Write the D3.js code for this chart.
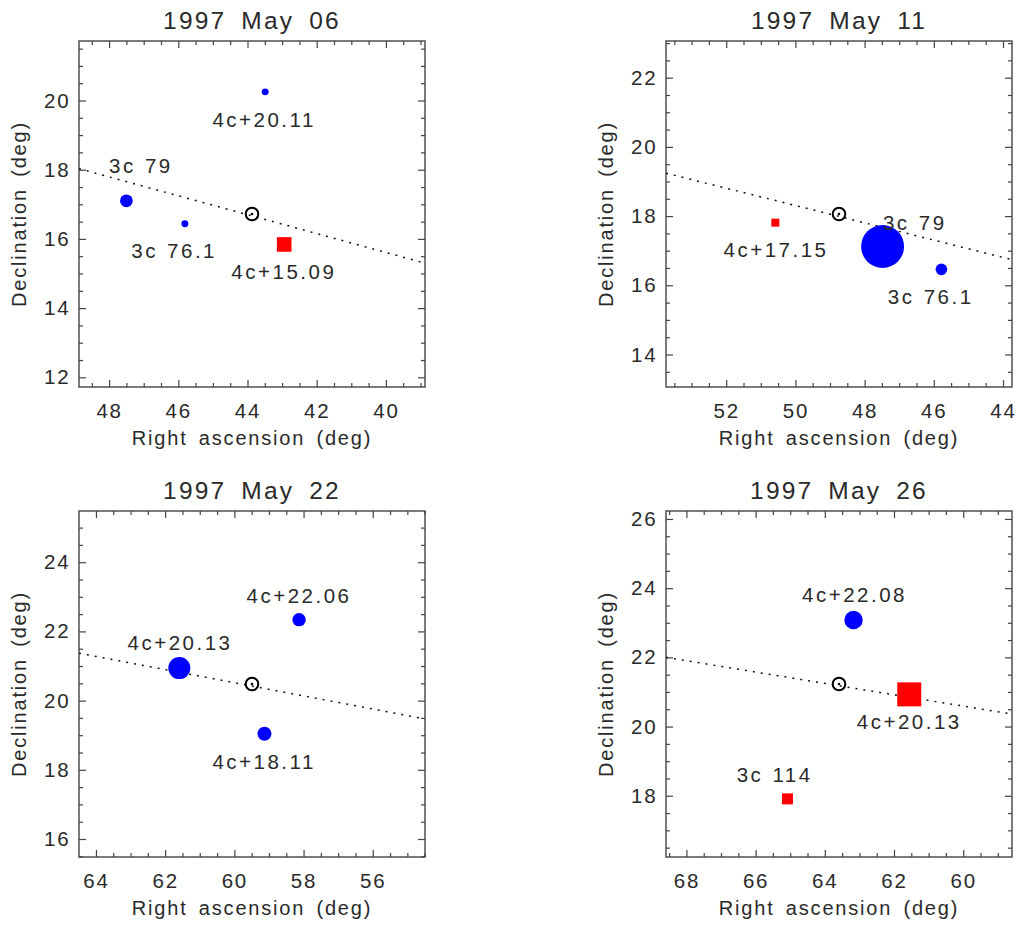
<!DOCTYPE html>
<html>
<head>
<meta charset="utf-8">
<script src="https://cdn.jsdelivr.net/npm/d3@7"></script>
<style>
  html, body { margin: 0; padding: 0; background: #fff; }
  svg text { font-family: "Liberation Sans", Arial, sans-serif; fill: #2a2a2a; }
</style>
</head>
<body>
<svg id="chart" width="1016" height="926"></svg>
<script>
// ---------------- data ----------------
const panelTitles = ["1997 May 06", "1997 May 11", "1997 May 22", "1997 May 26"];
// Sun position (centre of each panel), degrees
const sunRa  = [43.87, 48.74, 59.49, 63.59];
const sunDec = [16.72, 18.06, 20.48, 21.23];
const halfSpan = 5; // each panel spans sun +/- 5 deg
// dotted (ecliptic) line: declination at the left and right edge of each panel
const eclDecLeft  = [18.03, 19.24, 21.37, 22.00];
const eclDecRight = [15.30, 16.74, 19.47, 20.36];

// sources per panel
const srcPanel = [0, 0, 0, 0, 1, 1, 1, 2, 2, 2, 3, 3, 3];
const srcName  = ["3c 79", "3c 76.1", "4c+20.11", "4c+15.09",
                  "4c+17.15", "3c 79", "3c 76.1",
                  "4c+20.13", "4c+22.06", "4c+18.11",
                  "4c+22.08", "4c+20.13", "3c 114"];
const srcType  = ["circle", "circle", "circle", "square",
                  "square", "circle", "circle",
                  "circle", "circle", "circle",
                  "circle", "square", "square"];
const srcRa    = [47.50, 45.81, 43.49, 42.94,
                  50.58, 47.48, 45.78,
                  61.59, 58.13, 59.13,
                  63.17, 61.56, 65.08];
const srcDec   = [17.10, 16.44, 20.25, 15.84,
                  17.81, 17.12, 16.46,
                  20.94, 22.34, 19.04,
                  23.08, 20.93, 17.91];
const srcFlux  = [18, 5.4, 5.4, 23.7,
                  7.1, 205, 15,
                  54, 20, 22,
                  38, 64, 13.5];
const labelRa  = [47.08, 46.12, 43.52, 42.95,
                  50.56, 46.55, 46.09,
                  61.57, 58.13, 59.14,
                  63.14, 61.56, 65.45];
const labelDec = [17.90, 15.44, 19.24, 14.83,
                  16.83, 17.60, 15.46,
                  21.45, 22.83, 18.03,
                  23.60, 19.94, 18.39];

// ---------------- layout ----------------
const svg = d3.select("#chart");
svg.append("rect").attr("width", 1016).attr("height", 926).attr("fill", "#fff");

const boxSize = 346;
const panelLeft = [79, 666, 79, 666];
const panelTop  = [41, 41, 511, 511];
const axisColor = "#444";

const sizeScale = d3.scaleSqrt().domain([0, 100]).range([0, 15]);

function styleAxis(g) {
  g.select(".domain").remove();
  g.selectAll(".tick line").attr("stroke", axisColor).attr("stroke-width", 1.2);
}

panelTitles.forEach((title, p) => {
  const g = svg.append("g").attr("transform", `translate(${panelLeft[p]},${panelTop[p]})`);
  const x = d3.scaleLinear().domain([sunRa[p] + halfSpan, sunRa[p] - halfSpan]).range([0, boxSize]);
  const y = d3.scaleLinear().domain([sunDec[p] - halfSpan, sunDec[p] + halfSpan]).range([boxSize, 0]);

  const xd = x.domain(), yd = y.domain();
  const xMajor = d3.range(Math.ceil(Math.min(...xd) / 2) * 2, Math.max(...xd), 2);
  const xMinor = d3.range(Math.ceil(Math.min(...xd) * 2) / 2, Math.max(...xd), 0.5).filter(v => v % 2 !== 0);
  const yMajor = d3.range(Math.ceil(Math.min(...yd) / 2) * 2, Math.max(...yd), 2);
  const yMinor = d3.range(Math.ceil(Math.min(...yd) * 2) / 2, Math.max(...yd), 0.5).filter(v => v % 2 !== 0);

  // minor ticks (all four sides)
  g.append("g").attr("transform", `translate(0,${boxSize})`)
    .call(d3.axisBottom(x).tickValues(xMinor).tickSize(-4).tickFormat("")).call(styleAxis);
  g.append("g")
    .call(d3.axisTop(x).tickValues(xMinor).tickSize(-4).tickFormat("")).call(styleAxis);
  g.append("g")
    .call(d3.axisLeft(y).tickValues(yMinor).tickSize(-4).tickFormat("")).call(styleAxis);
  g.append("g").attr("transform", `translate(${boxSize},0)`)
    .call(d3.axisRight(y).tickValues(yMinor).tickSize(-4).tickFormat("")).call(styleAxis);

  // major ticks
  const gx = g.append("g").attr("transform", `translate(0,${boxSize})`)
    .call(d3.axisBottom(x).tickValues(xMajor).tickSize(-7).tickPadding(16).tickFormat(d3.format("d")))
    .call(styleAxis);
  g.append("g")
    .call(d3.axisTop(x).tickValues(xMajor).tickSize(-7).tickFormat("")).call(styleAxis);
  const gy = g.append("g")
    .call(d3.axisLeft(y).tickValues(yMajor).tickSize(-7).tickPadding(8.5).tickFormat(d3.format("d")))
    .call(styleAxis);
  g.append("g").attr("transform", `translate(${boxSize},0)`)
    .call(d3.axisRight(y).tickValues(yMajor).tickSize(-7).tickFormat("")).call(styleAxis);

  [gx, gy].forEach(a => a.selectAll(".tick text")
    .attr("font-size", 20.5).attr("letter-spacing", 1.8)
    .attr("font-family", null).style("fill", "#2a2a2a"));

  // frame
  g.append("rect").attr("width", boxSize).attr("height", boxSize)
    .attr("fill", "none").attr("stroke", axisColor).attr("stroke-width", 1.4);

  // clip for content
  const clipId = "clip" + p;
  g.append("clipPath").attr("id", clipId).append("rect").attr("width", boxSize).attr("height", boxSize);
  const c = g.append("g").attr("clip-path", `url(#${clipId})`);

  // dotted line
  c.append("line")
    .attr("x1", x(xd[0])).attr("y1", y(eclDecLeft[p]))
    .attr("x2", x(xd[1])).attr("y2", y(eclDecRight[p]))
    .attr("stroke", "#111").attr("stroke-width", 1.5).attr("stroke-dasharray", "2,6");

  // sources
  const idx = srcPanel.map((v, i) => v === p ? i : -1).filter(i => i >= 0);
  idx.forEach(i => {
    const r = sizeScale(srcFlux[i]);
    if (srcType[i] === "circle") {
      c.append("circle").attr("cx", x(srcRa[i])).attr("cy", y(srcDec[i])).attr("r", r).attr("fill", "#0000ff");
    } else {
      c.append("rect").attr("x", x(srcRa[i]) - r).attr("y", y(srcDec[i]) - r)
        .attr("width", 2 * r).attr("height", 2 * r).attr("fill", "#ff0000");
    }
  });

  // sun symbol
  c.append("circle").attr("cx", x(sunRa[p])).attr("cy", y(sunDec[p])).attr("r", 6.3)
    .attr("fill", "none").attr("stroke", "#000").attr("stroke-width", 2);
  c.append("circle").attr("cx", x(sunRa[p])).attr("cy", y(sunDec[p])).attr("r", 1.3).attr("fill", "#000");

  // labels
  idx.forEach(i => {
    g.append("text").attr("x", x(labelRa[i])).attr("y", y(labelDec[i]))
      .attr("text-anchor", "middle").attr("font-size", 20.5)
      .attr("letter-spacing", 2.5).attr("word-spacing", 1).style("white-space", "pre")
      .text(srcName[i]);
  });

  // titles
  g.append("text").attr("x", boxSize / 2).attr("y", -12).attr("text-anchor", "middle")
    .attr("font-size", 24.5).attr("letter-spacing", 2.2).attr("word-spacing", 6)
    .text(title);
  g.append("text").attr("x", boxSize / 2).attr("y", boxSize + 58).attr("text-anchor", "middle")
    .attr("font-size", 20).attr("letter-spacing", 1.8).attr("word-spacing", 4)
    .text("Right ascension (deg)");
  g.append("text").attr("transform", `translate(-53,${boxSize / 2}) rotate(-90)`)
    .attr("text-anchor", "middle")
    .attr("font-size", 20).attr("letter-spacing", 1.8).attr("word-spacing", 4)
    .text("Declination (deg)");
});
</script>
</body>
</html>
